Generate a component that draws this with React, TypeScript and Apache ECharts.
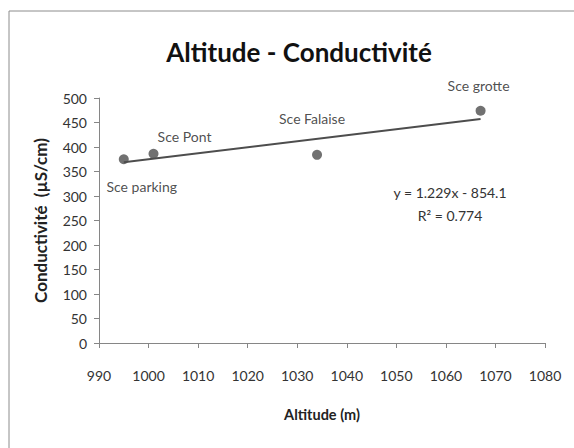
import React, { useEffect, useRef } from "react";
import * as echarts from "echarts";

const siteNames = ["Sce parking", "Sce Pont", "Sce Falaise", "Sce grotte"];
const altitudes = [995, 1001, 1034, 1067];
const conductivities = [375, 386, 384, 474];
const trendSlope = 1.229;
const trendIntercept = -854.1;
const rSquared = 0.774;
const xTicks = { min: 990, max: 1080, interval: 10 };
const yTicks = { min: 0, max: 500, interval: 50 };

const labelOffsets: Record<string, [number, number]> = {
  "Sce parking": [18, 27],
  "Sce Pont": [31, -17],
  "Sce Falaise": [-5, -36],
  "Sce grotte": [-2, -25],
};

const FONT = "Lato, 'Open Sans', sans-serif";

export default function App() {
  const ref = useRef<HTMLDivElement>(null);
  useEffect(() => {
    if (!ref.current) return;
    const chart = echarts.init(ref.current, null, { renderer: "svg" });
    const xMinData = Math.min(...altitudes);
    const xMaxData = Math.max(...altitudes);
    const trend = [
      [xMinData, trendSlope * xMinData + trendIntercept],
      [xMaxData, trendSlope * xMaxData + trendIntercept],
    ];
    const sign = trendIntercept < 0 ? "-" : "+";
    chart.setOption({
      animation: false,
      backgroundColor: "#ffffff",
      textStyle: { fontFamily: FONT },
      title: {
        text: "Altitude - Conductivité",
        left: 294,
        top: 34,
        textAlign: "center",
        textStyle: { fontFamily: FONT, fontSize: 26, fontWeight: "bold", color: "#111" },
      },
      grid: { left: 99, right: 29, top: 98, bottom: 105, containLabel: false },
      xAxis: {
        type: "value",
        min: xTicks.min,
        max: xTicks.max,
        interval: xTicks.interval,
        name: "Altitude (m)",
        nameLocation: "middle",
        nameGap: 64,
        nameTextStyle: { fontFamily: FONT, fontSize: 14.5, fontWeight: "bold", color: "#222" },
        axisLine: { show: true, onZero: false, lineStyle: { color: "#868686", width: 1 } },
        axisTick: { show: true, inside: false, length: 5, lineStyle: { color: "#868686" } },
        axisLabel: {
          margin: 25,
          fontSize: 14,
          color: "#333",
          fontFamily: FONT,
          formatter: (v: number) => String(v),
        },
        splitLine: { show: false },
      },
      yAxis: {
        type: "value",
        min: yTicks.min,
        max: yTicks.max,
        interval: yTicks.interval,
        name: "Conductivité  (µS/cm)",
        nameLocation: "middle",
        nameGap: 50,
        nameTextStyle: { fontFamily: FONT, fontSize: 17, fontWeight: "bold", color: "#222" },
        axisLine: { show: true, lineStyle: { color: "#868686", width: 1 } },
        axisTick: { show: true, inside: false, length: 5, lineStyle: { color: "#868686" } },
        axisLabel: {
          margin: 12,
          fontSize: 14,
          color: "#333",
          fontFamily: FONT,
          formatter: (v: number) => String(v),
        },
        splitLine: { show: false },
      },
      series: [
        {
          type: "line",
          data: trend,
          showSymbol: false,
          symbol: "none",
          lineStyle: { color: "#4d4d4d", width: 2 },
          silent: true,
          z: 2,
        },
        {
          type: "scatter",
          symbol: "circle",
          symbolSize: 10,
          itemStyle: { color: "#4d4d4d" },
          z: 3,
          data: siteNames.map((n, i) => ({
            name: n,
            value: [altitudes[i], conductivities[i]],
            label: {
              show: true,
              position: "inside",
              offset: labelOffsets[n],
              formatter: n,
              align: "center",
              verticalAlign: "middle",
              fontFamily: FONT,
              fontSize: 14,
              color: "#222",
            },
          })),
        },
      ],
      graphic: [
        {
          type: "rect",
          shape: { x: 9, y: 11, width: 580, height: 460 },
          style: { fill: "none", stroke: "#8c8c8c", lineWidth: 1 },
          silent: true,
        },
        {
          type: "text",
          x: 450,
          y: 192,
          style: {
            text: `y = ${trendSlope}x ${sign} ${Math.abs(trendIntercept)}`,
            fontFamily: FONT,
            fontSize: 14,
            fill: "#333",
            align: "center",
            verticalAlign: "middle",
          },
        },
        {
          type: "text",
          x: 450,
          y: 215,
          style: {
            text: `R² = ${rSquared}`,
            fontFamily: FONT,
            fontSize: 14,
            fill: "#333",
            align: "center",
            verticalAlign: "middle",
          },
        },
      ],
    });
    return () => chart.dispose();
  }, []);
  return (
    <div
      ref={ref}
      style={{ position: "absolute", left: 0, top: 0, width: 574, height: 448 }}
    />
  );
}
